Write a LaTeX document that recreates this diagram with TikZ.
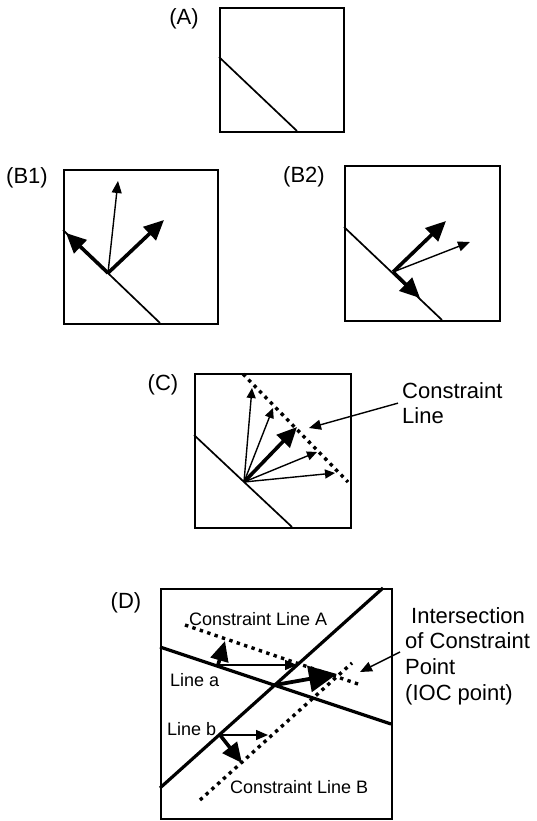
\documentclass[tikz,border=0pt]{standalone}
\usepackage{fontspec}
\setmainfont{Liberation Sans}
\usetikzlibrary{arrows.meta}
\begin{document}
\begin{tikzpicture}[x=1pt,y=-1pt,
  frame/.style={draw,line width=2.1pt,inner sep=0pt,anchor=north west},
  edgeline/.style={line width=1.7pt},
  boldline/.style={line width=3.2pt},
  dotline/.style={line width=3.4pt,dash pattern=on 3.4pt off 4.4pt},
  thinarr/.style={line width=1.4pt,-{Triangle[length=12pt,width=10pt]}},
  smallarr/.style={line width=1.4pt,-{Triangle[length=10pt,width=9pt]}},
  thickarr/.style={line width=3.6pt,-{Triangle[length=20pt,width=18pt]}},
  bigarr/.style={line width=3.8pt,-{Triangle[length=28pt,width=26pt]}},
  lab/.style={font=\fontsize{22}{25.7}\selectfont,inner sep=0pt},
  small/.style={font=\fontsize{18}{21}\selectfont,inner sep=0pt},
]
\useasboundingbox (0,0) rectangle (537,821);

% ---------- (A)
\node[frame,minimum width=124pt,minimum height=124pt] (boxA) at (219,7) {};
\node[lab] (labA) at (184,19) {(A)};
\coordinate (A1) at (219,57);
\coordinate (A2) at (297,131);
\draw[edgeline] (A1) -- (A2);

% ---------- (B1)
\node[frame,minimum width=154pt,minimum height=154pt] (boxB1) at (63,169) {};
\node[lab] (labB1) at (27,178) {(B1)};
\coordinate (B1a) at (63,230);
\coordinate (B1b) at (160,323);
\coordinate (B1o) at (108,273);
\coordinate (B1t1) at (66,233);
\coordinate (B1t2) at (118,181);
\coordinate (B1t3) at (164,220);
\draw[edgeline] (B1a) -- (B1b);
\draw[thickarr] (B1o) -- (B1t1);
\draw[thinarr] (B1o) -- (B1t2);
\draw[thickarr] (B1o) -- (B1t3);

% ---------- (B2)
\node[frame,minimum width=155pt,minimum height=155pt] (boxB2) at (344,165) {};
\node[lab] (labB2) at (304,177) {(B2)};
\coordinate (B2a) at (344,227);
\coordinate (B2b) at (442,320);
\coordinate (B2o) at (393,272);
\coordinate (B2t1) at (446,221);
\coordinate (B2t2) at (470,242);
\coordinate (B2t3) at (420,298);
\draw[edgeline] (B2a) -- (B2b);
\draw[thickarr] (B2o) -- (B2t1);
\draw[thinarr] (B2o) -- (B2t2);
\draw[thickarr] (B2o) -- (B2t3);

% ---------- (C)
\node[frame,minimum width=156pt,minimum height=154pt] (boxC) at (194,373) {};
\node[lab] (labC) at (163,385) {(C)};
\coordinate (Ca) at (194,435);
\coordinate (Cb) at (292,527);
\coordinate (Co) at (244,482);
\coordinate (Cd1) at (243,374);
\coordinate (Cd2) at (348,482);
\coordinate (Ct1) at (252,388);
\coordinate (Ct2) at (273,408);
\coordinate (Ct3) at (297,427);
\coordinate (Ct4) at (317,452);
\coordinate (Ct5) at (335,473);
\coordinate (Cpt) at (309,428);
\draw[edgeline] (Ca) -- (Cb);
\draw[dotline] (Cd1) -- (Cd2);
\draw[smallarr] (Co) -- (Ct1);
\draw[smallarr] (Co) -- (Ct2);
\draw[thickarr] (Co) -- (Ct3);
\draw[smallarr] (Co) -- (Ct4);
\draw[smallarr] (Co) -- (Ct5);
\node[lab,align=left,anchor=north west] (ctext) at (402,382) {Constraint\\Line};
\draw[thinarr] ([xshift=-4pt]ctext.west) -- (Cpt);

% ---------- (D)
\node[frame,minimum width=231pt,minimum height=230pt] (boxD) at (160,588) {};
\node[lab] (labD) at (126,603) {(D)};
\coordinate (La1) at (160,647);
\coordinate (La2) at (391,724);
\coordinate (Lb1) at (160,788);
\coordinate (Lb2) at (383,588);
\coordinate (CA1) at (185,625);
\coordinate (CA2) at (358,684);
\coordinate (CB1) at (200,800);
\coordinate (CB2) at (352,663);
\draw[boldline] (La1) -- (La2);
\draw[boldline] (Lb1) -- (Lb2);
\draw[dotline] (CA1) -- (CA2);
\draw[dotline] (CB1) -- (CB2);

\coordinate (Dao) at (218,665);
\coordinate (Dat1) at (225,641);
\coordinate (Dat2) at (297,665);
\coordinate (Dx) at (275,685);
\coordinate (Dxt) at (337,674);
\coordinate (Dbo) at (220,735);
\coordinate (Dbt1) at (242,763);
\coordinate (Dbt2) at (268,735);
\draw[thickarr] (Dao) -- (Dat1);
\draw[thinarr] (Dao) -- (Dat2);
\draw[bigarr] (Dx) -- (Dxt);
\draw[thickarr] (Dbo) -- (Dbt1);
\draw[thinarr] (Dbo) -- (Dbt2);

\node[small,anchor=base west] (tCA) at (189,625) {Constraint Line A};
\node[small,anchor=base west] (tLa) at (170,686) {Line a};
\node[small,anchor=base west] (tLb) at (167,735) {Line b};
\node[small,anchor=base west] (tCB) at (230,793) {Constraint Line B};

\node[lab,align=left,anchor=north west] (ioc) at (405,607)
  {\hspace*{6pt}Intersection\\of Constraint\\Point\\(IOC point)};
\coordinate (iocfrom) at (400,652);
\coordinate (iocto) at (360,672);
\draw[thinarr] (iocfrom) -- (iocto);
\end{tikzpicture}
\end{document}
